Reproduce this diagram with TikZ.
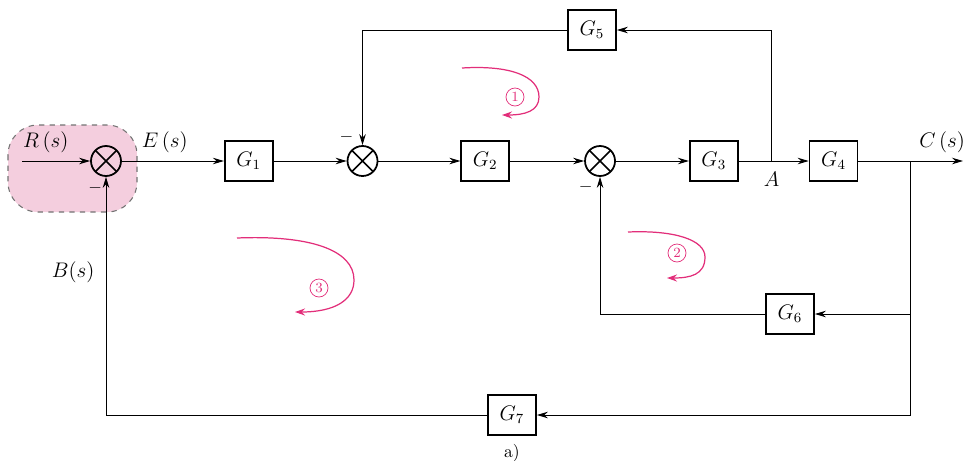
\documentclass[tikz,border=0pt]{standalone}
\usetikzlibrary{arrows.meta, positioning}
\definecolor{loopred}{RGB}{226,46,122}
\definecolor{shade}{RGB}{244,206,222}
\tikzset{
  block/.style={rectangle, draw, line width=1pt, font=\large,
                minimum width=0.96cm, minimum height=0.8cm},
  sum/.style={circle, draw, line width=1pt, minimum size=0.6cm, inner sep=0pt,
              path picture={\draw[line width=0.9pt]
                (path picture bounding box.center) +(45:0.3) -- +(225:0.3)
                (path picture bounding box.center) +(135:0.3) -- +(315:0.3);}},
  arrow/.style={-{Stealth[length=2.2mm, width=1.3mm]}, line width=0.5pt},
  sig/.style={font=\large},
  sign/.style={inner sep=1pt},
  region/.style={fill=shade, draw=black!55, dashed, line width=0.6pt, rounded corners=0.6cm},
  looparrow/.style={draw=loopred, line width=0.7pt, -{Stealth[length=2mm, width=1.4mm]}},
  loopnum/.style={circle, draw=loopred, text=loopred, line width=0.4pt,
                  inner sep=0.5pt, minimum size=0.36cm, font=\footnotesize}
}

\begin{document}
\begin{tikzpicture}[node distance=1.5cm]
\useasboundingbox (0,0) rectangle (19.3,-9.2);

% Shaded area round the input summing point
\draw[region] (0.16,-2.5) rectangle (2.74,-4.24);

% Forward path: S1 -> G1 -> S2 -> G2 -> S3 -> G3 -> G4
\node[sum] (S1) at (2.12,-3.22) {};
\node[block, right=2.04cm of S1] (G1) {$G_1$};
\node[sum, right=1.46cm of G1] (S2) {};
\node[block, right=1.64cm of S2] (G2) {$G_2$};
\node[sum, right=1.48cm of G2] (S3) {};
\node[block, right=1.46cm of S3] (G3) {$G_3$};
\node[block, right=1.4cm of G3] (G4) {$G_4$};

\coordinate (In) at (0.44,-3.22);
\coordinate (Out) at (19.26,-3.22);
\coordinate[right=0.66cm of G3.east] (A);
\coordinate[right=1.04cm of G4.east] (Cb);

% Feedback blocks
\node[block] (G5) at (11.84,-0.6) {$G_5$};
\node[block] (G6) at (15.8,-6.28) {$G_6$};
\node[block] (G7) at (10.24,-8.3) {$G_7$};
\node[below=0.05cm of G7] (cap) {a)};

% --- Connections ---
\draw[arrow] (In) -- (S1.west) node[sig, pos=0.35, above=1pt] {$R\,(s)$};
\draw[arrow] (S1.east) -- (G1.west) node[sig, pos=0.42, above=1pt] {$E\,(s)$};
\draw[arrow] (G1.east) -- (S2.west);
\draw[arrow] (S2.east) -- (G2.west);
\draw[arrow] (G2.east) -- (S3.west);
\draw[arrow] (S3.east) -- (G3.west);
\draw[arrow] (G3.east) -- (G4.west);
\draw[arrow] (G4.east) -- (Out) node[sig, pos=0.8, above=1pt] {$C\,(s)$};
\node[sig, below=3pt of A] (Alabel) {$A$};

% A -> G5 -> S2
\draw[arrow] (A) |- (G5.east);
\draw[arrow] (G5.west) -| (S2.north);

% C(s) -> G6 -> S3
\draw[arrow] (Cb) |- (G6.east);
\draw[arrow] (G6.west) -| (S3.south);

% C(s) -> G7 -> S1
\draw[arrow] (Cb) |- (G7.east);
\draw[arrow] (G7.west) -| (S1.south) node[sig, pos=0.8, left=3pt] {$B(s)$};

% minus signs at the summing points
\node[sign, below left=2pt and 1pt of S1.south] {$-$};
\node[sign, above left=0pt and 4pt of S2.north] {$-$};
\node[sign, below left=1pt and 3pt of S3.south] {$-$};

% loops
\draw[looparrow] (9.24,-1.36) .. controls (10.2,-1.3) and (10.78,-1.52) .. (10.78,-1.94)
  .. controls (10.78,-2.22) and (10.5,-2.3) .. (10.04,-2.3);
\node[loopnum] (L1) at (10.3,-1.94) {1};
\draw[looparrow] (12.56,-4.64) .. controls (13.5,-4.6) and (14.1,-4.8) .. (14.1,-5.14)
  .. controls (14.1,-5.5) and (13.8,-5.56) .. (13.34,-5.56);
\node[loopnum] (L2) at (13.54,-5.06) {2};
\draw[looparrow] (4.74,-4.76) .. controls (6.2,-4.7) and (7.08,-5.0) .. (7.08,-5.6)
  .. controls (7.08,-6.0) and (6.7,-6.24) .. (5.9,-6.24);
\node[loopnum] (L3) at (6.38,-5.76) {3};

\end{tikzpicture}
\end{document}
